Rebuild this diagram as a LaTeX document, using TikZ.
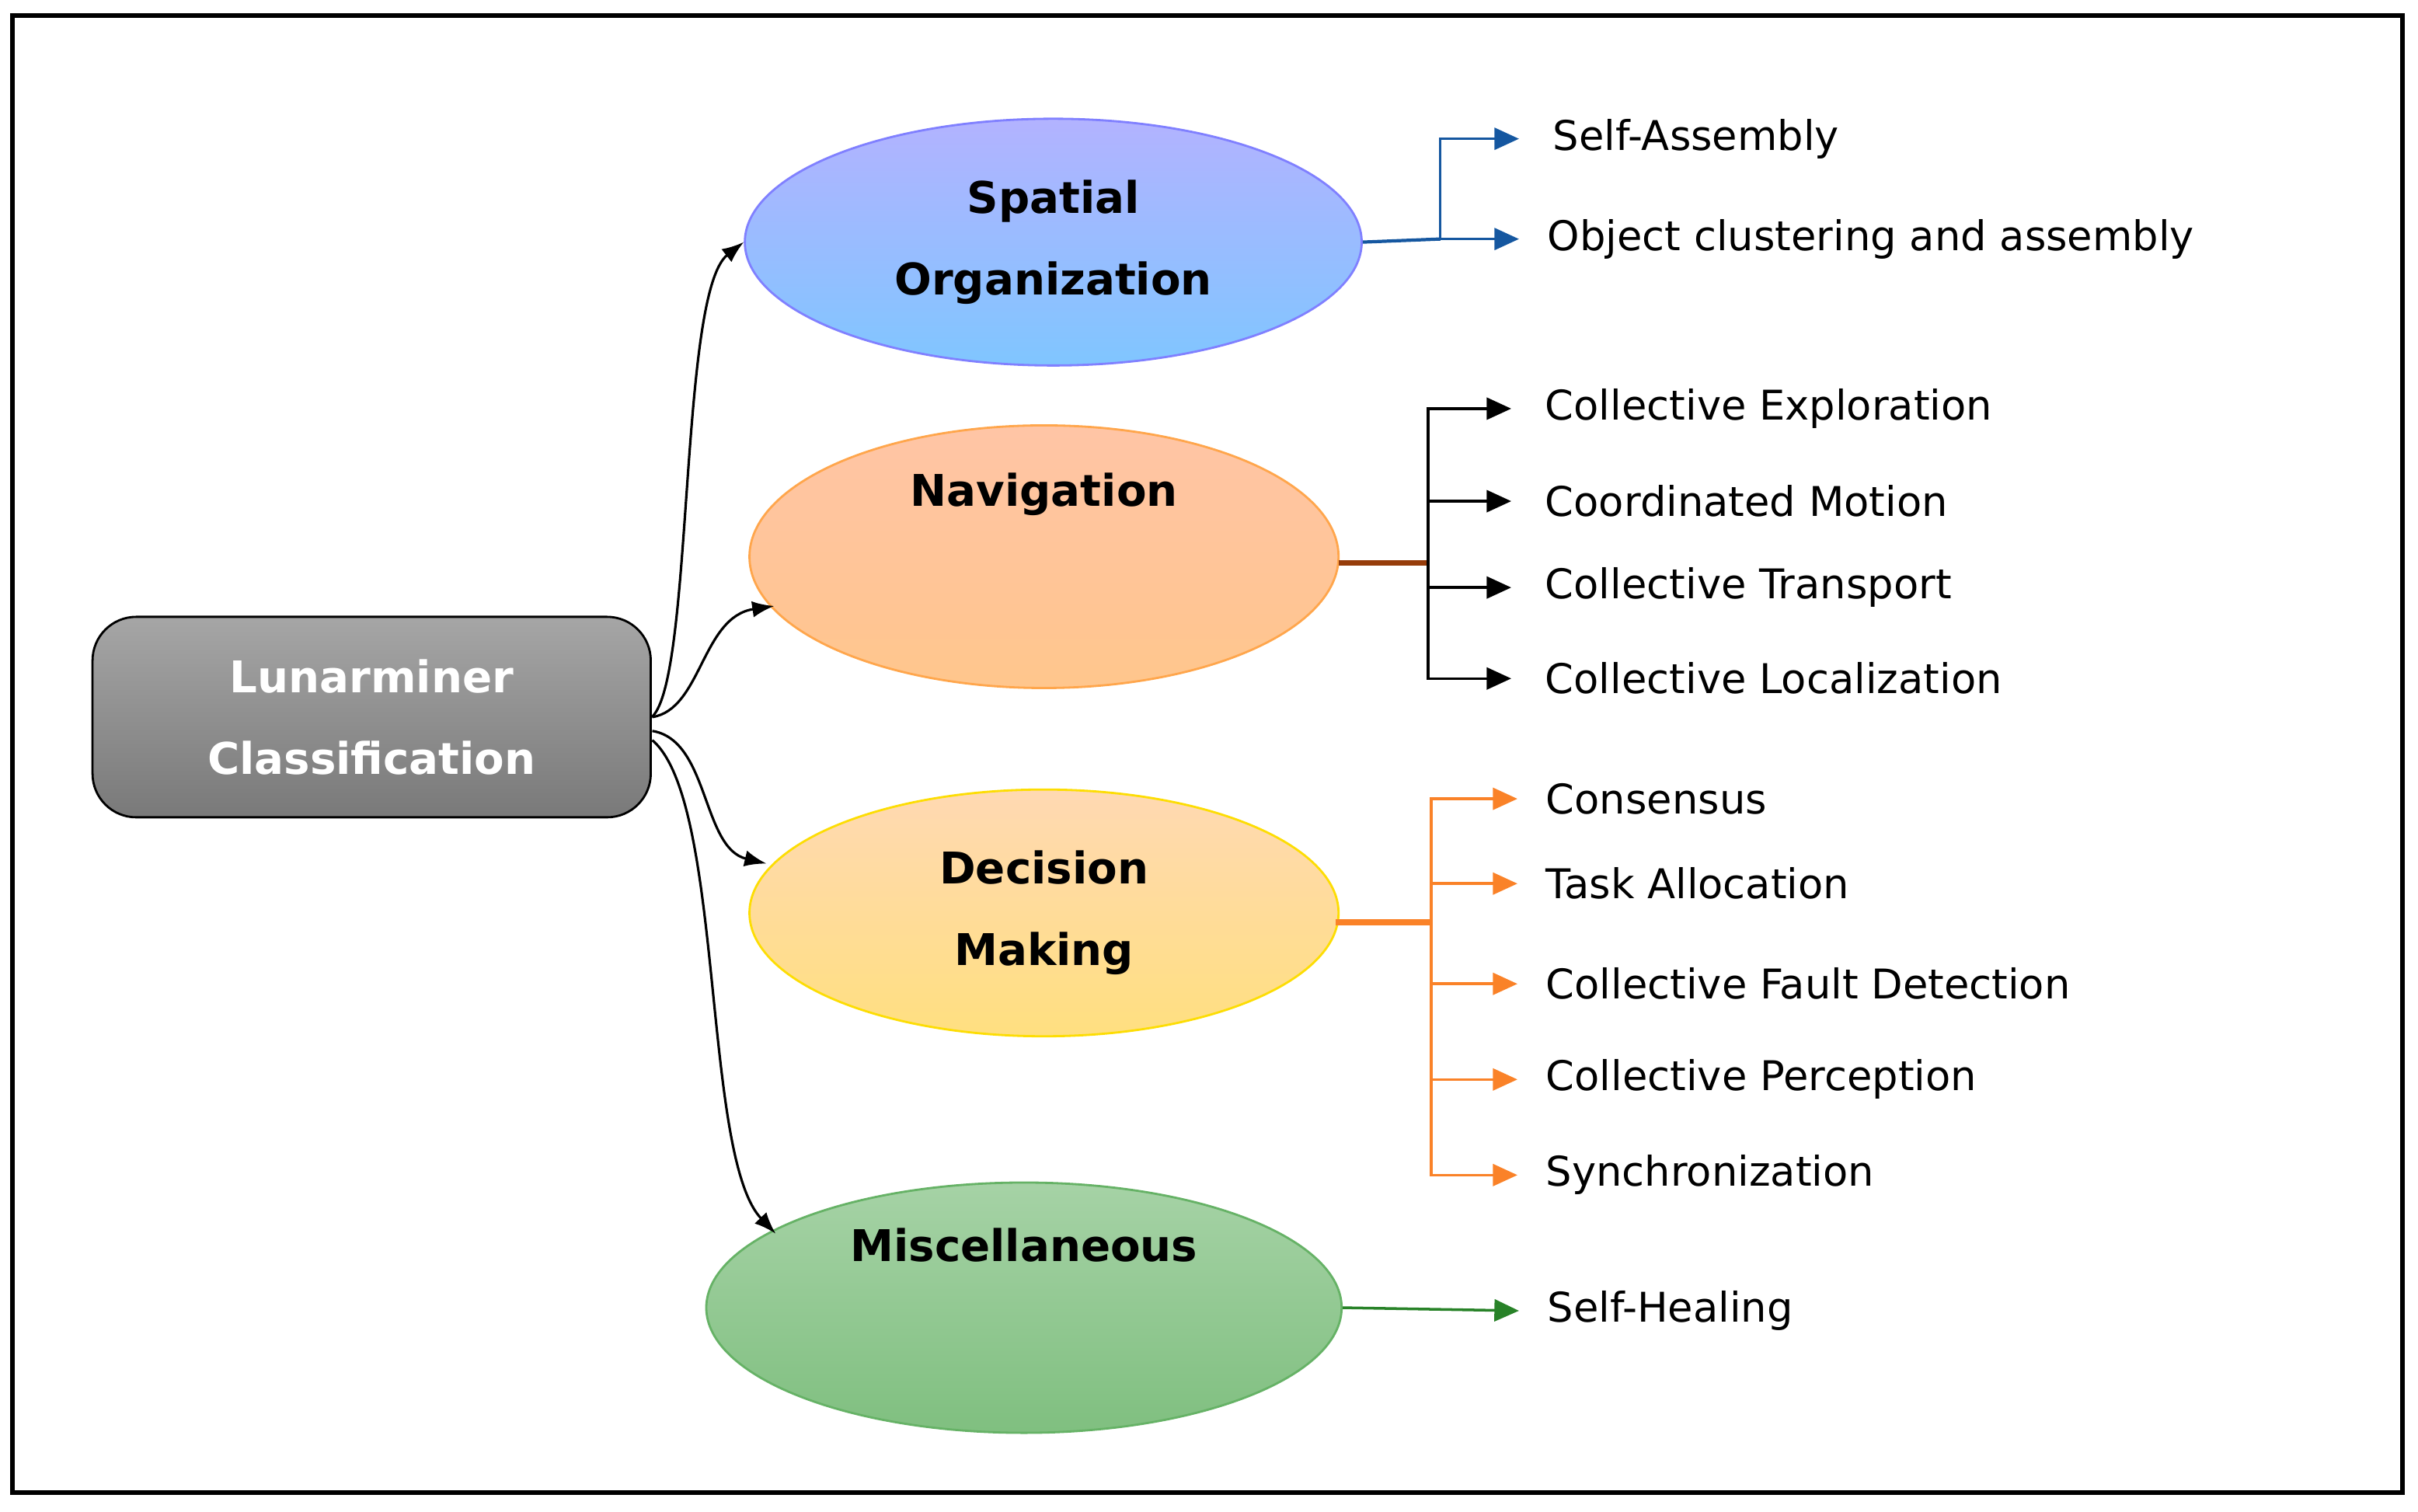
\documentclass[tikz,border=0pt]{standalone}
\usepackage{fontspec}
\setmainfont{DejaVu Sans}
\usetikzlibrary{arrows.meta,shapes.geometric,shadows}
\definecolor{bl}{RGB}{21,87,160}
\definecolor{br}{RGB}{150,60,10}
\definecolor{og}{RGB}{250,130,40}
\definecolor{gr}{RGB}{40,130,40}
\begin{document}
\begin{tikzpicture}[x=0.01985cm,y=-0.01985cm,
 lab/.style={anchor=west,font=\fontsize{15}{18}\selectfont,inner sep=0pt},
 ell/.style={ellipse,draw,line width=0.8pt,align=center,font=\fontsize{16}{30}\selectfont\bfseries},
 main/.style={-{Latex[length=8pt]},line width=0.9pt,black},
 br/.style={-{Triangle[length=9pt,width=8pt]},line width=1pt}]
\useasboundingbox (0,0) rectangle (1568,980);
\draw[line width=1.6pt] (8,10) rectangle (1558,968);
\node[draw,line width=0.8pt,rounded corners=16pt,minimum width=362\pgflinewidth*0+362*0.01985cm,minimum height=130*0.01985cm,
 top color=gray!70,bottom color=gray!95!black,text=white,align=center,font=\fontsize{16}{30}\selectfont\bfseries] (lc) at (241,465) {Lunarminer\\Classification};
\node[ell,draw=blue!50,top color=blue!30,bottom color=blue!45!cyan!50,minimum width=400*0.01985cm,minimum height=160*0.01985cm] (so) at (683,157) {Spatial\\Organization};
\node[ell,draw=orange!70,top color=red!30!orange!35,bottom color=orange!45,minimum width=382*0.01985cm,minimum height=160*0.01985cm] (nv) at (677,361) {Navigation\\[1.2em]};
\node[ell,draw=yellow!80!orange,top color=orange!30,bottom color=yellow!50!orange!50,minimum width=382*0.01985cm,minimum height=160*0.01985cm] (dm) at (677,592) {Decision\\Making};
\node[ell,draw=green!50!black!60,top color=green!50!black!35,bottom color=green!50!black!50,minimum width=412*0.01985cm,minimum height=160*0.01985cm] (mi) at (664,848) {Miscellaneous\\[1em]};
\draw[main] (lc.east) ++(0,0) coordinate (s0) .. controls (450,440) and (440,190) .. (so.west);
\draw[main] (423,465) .. controls (455,460) and (455,400) .. (502,393);
\draw[main] (423,474) .. controls (460,480) and (455,550) .. (497,560);
\draw[main] (423,480) .. controls (470,520) and (455,750) .. (503,800);
% spatial
\coordinate (s1) at (934,155);
\draw[bl,line width=1.2pt] (so.east) -- (s1);
\draw[bl,br] (934,155) |- (985,90) node[lab,black,right=12pt] (a1) {Self-Assembly};
\draw[bl,br] (s1) -- (985,155) node[lab,black,right=10pt] (a2) {Object clustering and assembly};
% navigation
\coordinate (n1) at (926,365);
\draw[br!100,line width=2.2pt] (868,365) -- (n1);
\foreach \y/\t/\n in {265/Collective Exploration/b1,325/Coordinated Motion/b2,381/Collective Transport/b3,440/Collective Localization/b4}
 \draw[br,br] (n1) |- (980,\y) node[lab,black,right=12pt] (\n) {\t};
% decision
\coordinate (d1) at (928,598);
\draw[og,line width=2.2pt] (866,598) -- (d1);
\foreach \y/\t/\n in {518/Consensus/c1,573/Task Allocation/c2,638/Collective Fault Detection/c3,700/Collective Perception/c4,762/Synchronization/c5}
 \draw[og,br] (d1) |- (984,\y) node[lab,black,right=10pt] (\n) {\t};
% misc
\draw[gr,br] (mi.east) -- (985,850) node[lab,black,right=10pt] (e1) {Self-Healing};
\end{tikzpicture}
\end{document}
